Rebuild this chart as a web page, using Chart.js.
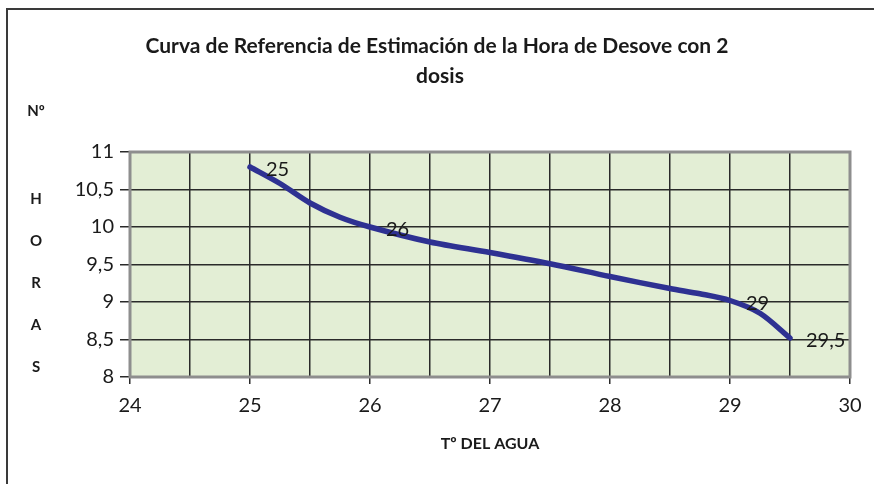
<!DOCTYPE html>
<html>
<head>
<meta charset="utf-8">
<script src="https://cdn.jsdelivr.net/npm/chart.js@4/dist/chart.umd.min.js"></script>
<style>
  html, body { margin: 0; padding: 0; background: #fff; }
  #wrap { width: 874px; height: 484px; position: relative; }
</style>
</head>
<body>
<div id="wrap"><canvas id="chart" width="874" height="484"></canvas></div>
<script>
// Temperature of the water (x) and hours to spawning (y)
const temps = [25, 25.25, 25.5, 25.75, 26, 26.5, 27, 27.5, 28, 28.5, 28.75, 29, 29.25, 29.5];
const hours = [10.8, 10.58, 10.32, 10.13, 10.0, 9.8, 9.66, 9.51, 9.34, 9.18, 9.11, 9.02, 8.85, 8.52];
const pointLabels = ["25", "", "", "", "26", "", "", "", "", "", "", "29", "", "29,5"];

const xTicks = [24, 25, 26, 27, 28, 29, 30];
const yTicks = ["8", "8,5", "9", "9,5", "10", "10,5", "11"];

const titleLines = ["Curva de Referencia de Estimación de la Hora de Desove con 2", "dosis"];
const yLetters = ["H", "O", "R", "A", "S"];

const FONT = "Lato, 'Open Sans', sans-serif";

// Draws the frame, plot background, titles and point labels
const decor = {
  id: "decor",
  beforeDraw(chart) {
    const { ctx, chartArea: a } = chart;
    ctx.save();
    ctx.fillStyle = "#ffffff";
    ctx.fillRect(0, 0, chart.width, chart.height);
    // outer frame
    ctx.strokeStyle = "#3a3a3a";
    ctx.lineWidth = 2;
    ctx.strokeRect(7, 9, 900, 600);
    // plot background
    ctx.fillStyle = "#e3eed5";
    ctx.fillRect(a.left, a.top, a.right - a.left, a.bottom - a.top);
    ctx.restore();
  },
  beforeDatasetsDraw(chart) {
    const { ctx, chartArea: a } = chart;
    ctx.save();
    ctx.strokeStyle = "#8e8e8e";
    ctx.lineWidth = 3;
    ctx.strokeRect(a.left, a.top, a.right - a.left, a.bottom - a.top);
    ctx.restore();
  },
  afterDraw(chart) {
    const { ctx } = chart;
    ctx.save();
    ctx.fillStyle = "#1a1a1a";
    ctx.textAlign = "center";
    ctx.textBaseline = "middle";
    ctx.font = "bold 21px " + FONT;
    ctx.fillText(titleLines[0], 437, 46);
    ctx.fillText(titleLines[1], 440, 76);
    ctx.font = "bold 15px " + FONT;
    ctx.fillText("Nº", 36, 111);
    yLetters.forEach((l, i) => ctx.fillText(l, 36, 199 + i * 42));

    // data labels
    const meta = chart.getDatasetMeta(0);
    ctx.font = "20px " + FONT;
    ctx.textAlign = "left";
    meta.data.forEach((pt, i) => {
      if (pointLabels[i]) ctx.fillText(pointLabels[i], pt.x + 16, pt.y + 3);
    });
    ctx.restore();
  },
};

new Chart(document.getElementById("chart"), {
  type: "scatter",
  data: {
    datasets: [
      {
        data: temps.map((t, i) => ({ x: t, y: hours[i] })),
        showLine: true,
        borderColor: "#2e3192",
        borderWidth: 5.5,
        tension: 0.3,
        pointRadius: 0,
        borderCapStyle: "round",
      },
    ],
  },
  options: {
    responsive: false,
    animation: false,
    layout: { padding: { top: 152, right: 24, left: 0, bottom: 0 } },
    plugins: { legend: { display: false }, tooltip: { enabled: false }, title: { display: false } },
    scales: {
      x: {
        type: "linear",
        min: 24,
        max: 30,
        afterFit: (s) => { s.height = 107; },
        afterBuildTicks: (s) => {
          const t = [];
          for (let v = 24; v <= 30; v += 0.5) t.push({ value: v });
          s.ticks = t;
        },
        ticks: {
          autoSkip: false,
          maxRotation: 0,
          padding: 10,
          color: "#1a1a1a",
          font: { family: FONT, size: 20 },
          callback: (v) => (xTicks.includes(v) ? String(v) : ""),
        },
        grid: {
          color: "#2a2a2a",
          lineWidth: 1.5,
          tickLength: 7,
          tickColor: (c) => (Number.isInteger(c.tick.value) ? "#2a2a2a" : "rgba(0,0,0,0)"),
        },
        border: { display: false },
        title: {
          display: true,
          text: "Tº DEL AGUA",
          color: "#1a1a1a",
          font: { family: FONT, size: 16, weight: "bold" },
          padding: { top: 0, bottom: 31 },
        },
      },
      y: {
        min: 8,
        max: 11,
        afterFit: (s) => { s.width = 130; },
        ticks: {
          stepSize: 0.5,
          padding: 6,
          color: "#1a1a1a",
          font: { family: FONT, size: 20 },
          callback: (v) => yTicks[Math.round((v - 8) * 2)],
        },
        grid: { color: "#2a2a2a", lineWidth: 1.5, tickLength: 10, tickColor: "#2a2a2a" },
        border: { display: false },
      },
    },
  },
  plugins: [decor],
});
</script>
</body>
</html>
